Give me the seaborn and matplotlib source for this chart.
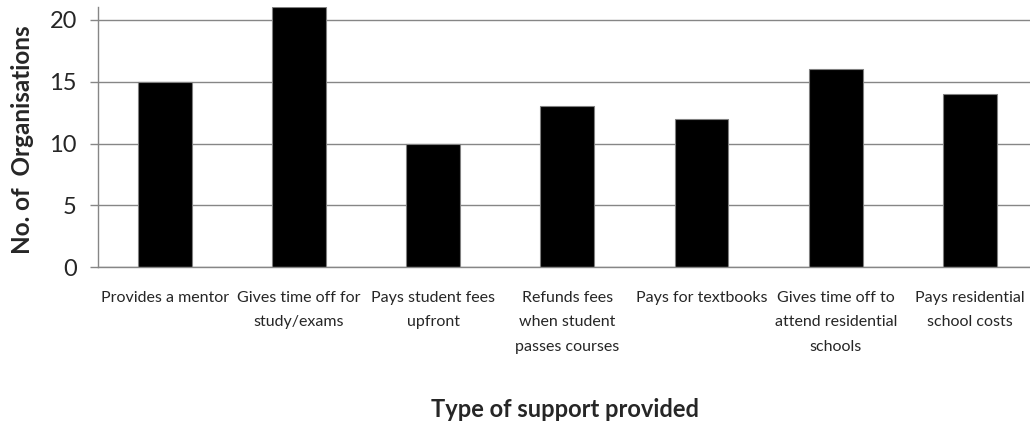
import matplotlib
matplotlib.use("Agg")
import matplotlib.pyplot as plt
import seaborn as sns
import pandas as pd

categories = [
    "Provides a mentor",
    "Gives time off for\nstudy/exams",
    "Pays student fees\nupfront",
    "Refunds fees\nwhen student\npasses courses",
    "Pays for textbooks",
    "Gives time off to\nattend residential\nschools",
    "Pays residential\nschool costs",
]
values = [15, 21, 10, 13, 12, 16, 14]
y_ticks = [0, 5, 10, 15, 20]

sns.set_theme(style="white")
plt.rcParams['font.family'] = ['Lato', 'DejaVu Sans']

GRAY = "#868686"

fig = plt.figure(figsize=(10.3, 4.21), dpi=100)
ax = fig.add_axes([0.0948, 0.365, 0.912, 0.6176])
df = pd.DataFrame({"cat": categories, "val": values})
sns.barplot(data=df, x="cat", y="val", color="black", edgecolor="#808080",
            linewidth=0.8, width=0.4, saturation=1, ax=ax)
ax.set_ylim(0, 21)
ax.set_xlim(-0.5, len(categories) - 0.5)
ax.set_yticks(y_ticks)
ax.yaxis.grid(True, color=GRAY, linewidth=1)
ax.xaxis.grid(False)
ax.set_axisbelow(True)
for s in ["top", "right"]:
    ax.spines[s].set_visible(False)
for s in ["left", "bottom"]:
    ax.spines[s].set_color(GRAY)
    ax.spines[s].set_linewidth(1)
ax.tick_params(axis='y', direction='out', length=6, color=GRAY, width=1,
               labelsize=17, pad=9, left=True)
ax.tick_params(axis='x', length=0, pad=17, labelsize=11.5)
for lbl in ax.get_xticklabels():
    lbl.set_linespacing(1.95)

ax.set_ylabel("No. of  Organisations", fontsize=17.5, fontweight="bold")
ax.yaxis.set_label_coords(-0.068, 0.49)
ax.set_xlabel("Type of support provided", fontsize=17, fontweight="bold")
ax.xaxis.set_label_coords(0.4975, -0.503)

fig.savefig("out.png", dpi=100)
